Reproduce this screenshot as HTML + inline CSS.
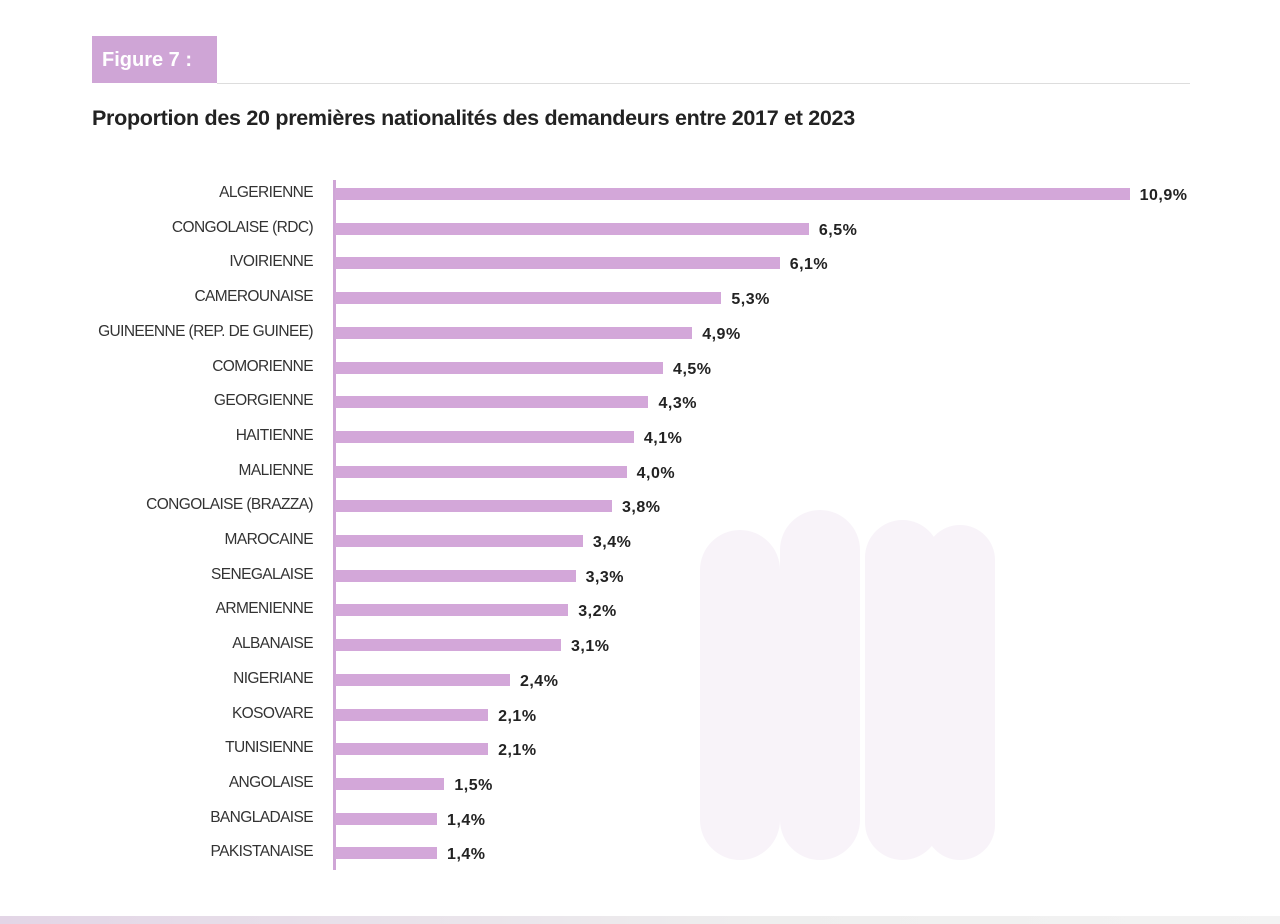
<!DOCTYPE html>
<html><head><meta charset="utf-8"><style>
body{margin:0;width:1280px;height:924px;background:#fff;position:relative;overflow:hidden;font-family:"Liberation Sans",sans-serif}
.fig{position:absolute;left:92px;top:36px;width:125px;height:47px;background:#cfa5d6;color:#fff;font-weight:bold;font-size:20px;line-height:49px;padding-left:10px;box-sizing:border-box}
.rule{position:absolute;left:217px;top:83px;width:973px;height:1px;background:#ddd}
.title{position:absolute;left:92px;top:106px;font-size:21.5px;font-weight:bold;color:#222;letter-spacing:-0.3px;white-space:nowrap}
.axis{position:absolute;left:333px;top:180px;width:3px;height:690px;background:#cfa5d6}
.lab{position:absolute;right:967px;font-size:15.5px;color:#333;letter-spacing:-0.6px;white-space:nowrap}
.bar{position:absolute;left:335px;height:12px;background:#d3a7d9}
.val{position:absolute;font-size:16px;font-weight:bold;color:#222;letter-spacing:0.5px}
.sil{position:absolute;background:#f8f3f9;border-radius:40px}
.bot{position:absolute;left:0;top:916px;width:1280px;height:8px;background:linear-gradient(90deg,#e3d5e6,#eee 60%,#f3f3f3)}
</style></head><body>
<div class="sil" style="left:700px;top:530px;width:80px;height:330px"></div>
<div class="sil" style="left:780px;top:510px;width:80px;height:350px"></div>
<div class="sil" style="left:865px;top:520px;width:75px;height:340px"></div>
<div class="sil" style="left:925px;top:525px;width:70px;height:335px"></div>
<div class="fig">Figure 7 :</div>
<div class="rule"></div>
<div class="title">Proportion des 20 premières nationalités des demandeurs entre 2017 et 2023</div>
<div class="axis"></div>
<div id="c"></div>
<div class="bot"></div>
<script>
var d=[["ALGERIENNE",10.9],["CONGOLAISE (RDC)",6.5],["IVOIRIENNE",6.1],["CAMEROUNAISE",5.3],["GUINEENNE (REP. DE GUINEE)",4.9],["COMORIENNE",4.5],["GEORGIENNE",4.3],["HAITIENNE",4.1],["MALIENNE",4.0],["CONGOLAISE (BRAZZA)",3.8],["MAROCAINE",3.4],["SENEGALAISE",3.3],["ARMENIENNE",3.2],["ALBANAISE",3.1],["NIGERIANE",2.4],["KOSOVARE",2.1],["TUNISIENNE",2.1],["ANGOLAISE",1.5],["BANGLADAISE",1.4],["PAKISTANAISE",1.4]];
var h="";d.forEach(function(r,i){var y=194+i*34.7;var w=r[1]*72.9;
h+='<div class="lab" style="top:'+(y-10)+'px">'+r[0]+'</div><div class="bar" style="top:'+(y-6)+'px;width:'+w+'px"></div><div class="val" style="left:'+(335+w+10)+'px;top:'+(y-7)+'px">'+r[1].toFixed(1).replace(".",",")+'%</div>';});
document.getElementById("c").innerHTML=h;
</script>
</body></html>
